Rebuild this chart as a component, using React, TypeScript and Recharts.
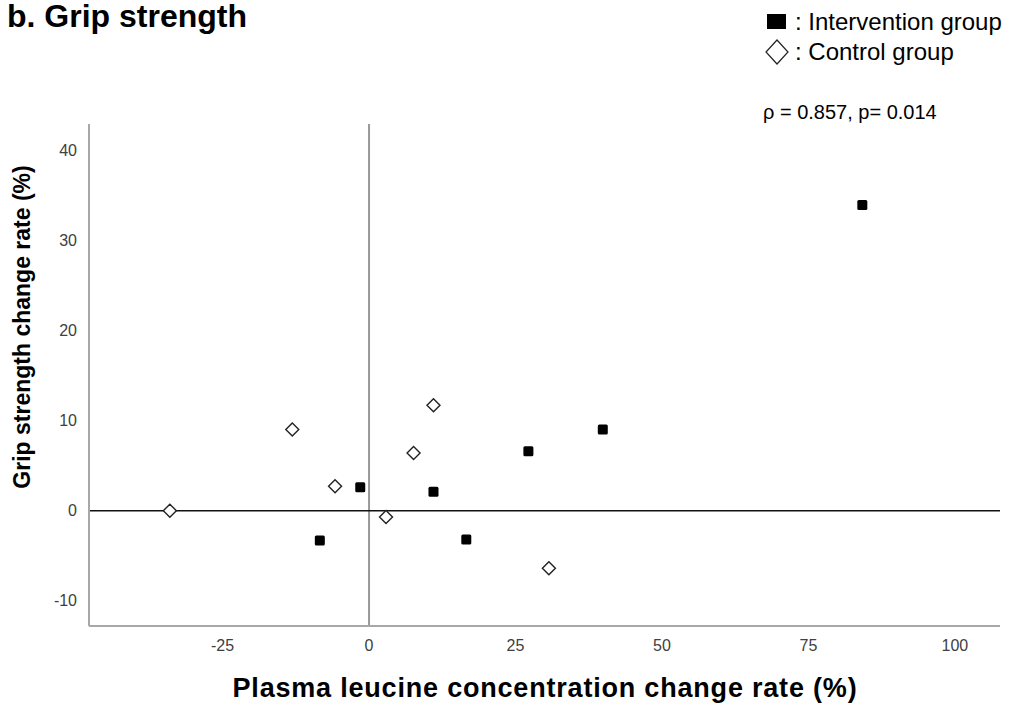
import React from 'react';
import { ScatterChart, Scatter, XAxis, YAxis, ReferenceLine } from 'recharts';

// values
const interventionX = [-1.5, -8.4, 11.0, 16.6, 27.2, 39.9, 84.2];
const interventionY = [2.6, -3.3, 2.1, -3.2, 6.6, 9.0, 33.9];
const controlX = [-34.0, -13.1, -5.8, 2.9, 7.6, 11.0, 30.7];
const controlY = [0.0, 9.0, 2.7, -0.7, 6.4, 11.7, -6.4];

const xTicks = [-25, 0, 25, 50, 75, 100];
const yTicks = [-10, 0, 10, 20, 30, 40];

const intervention = interventionX.map((x, i) => ({ x, y: interventionY[i] }));
const control = controlX.map((x, i) => ({ x, y: controlY[i] }));

const font = "'Liberation Sans', Arial, sans-serif";
const tickFont = "'Liberation Sans Narrow', 'Liberation Sans', Arial, sans-serif";

const SquareDot = (props: any) => {
  const { cx, cy } = props;
  if (cx == null || cy == null) return null;
  return <rect x={cx - 5} y={cy - 5} width={10} height={10} rx={1.5} fill="#000" />;
};

const DiamondDot = (props: any) => {
  const { cx, cy } = props;
  if (cx == null || cy == null) return null;
  const r = 6.5;
  return (
    <polygon
      points={`${cx},${cy - r} ${cx + r},${cy} ${cx},${cy + r} ${cx - r},${cy}`}
      fill="#fff"
      stroke="#222"
      strokeWidth={1.4}
    />
  );
};

const App: React.FC = () => {
  return (
    <div style={{ position: 'absolute', left: 0, top: 0, width: 1016, height: 704, background: '#fff', fontFamily: font }}>
      <div style={{ position: 'absolute', left: 7, top: -2, fontSize: 32, fontWeight: 700, color: '#000' }}>
        b. Grip strength
      </div>

      <div style={{ position: 'absolute', left: 765, top: 7, fontSize: 24, color: '#000', lineHeight: '30px' }}>
        <div style={{ display: 'flex', alignItems: 'center' }}>
          <svg width={28} height={30}>
            <rect x={2} y={7} width={19} height={15} fill="#000" />
          </svg>
          <span style={{ marginLeft: 2 }}>: Intervention group</span>
        </div>
        <div style={{ display: 'flex', alignItems: 'center' }}>
          <svg width={28} height={30}>
            <polygon points="12,3 23,15 12,27 1,15" fill="#fff" stroke="#222" strokeWidth={1.2} />
          </svg>
          <span style={{ marginLeft: 2 }}>: Control group</span>
        </div>
      </div>

      <div style={{ position: 'absolute', left: 763, top: 101, fontSize: 20, color: '#000' }}>
        ρ = 0.857, p= 0.014
      </div>

      <ScatterChart width={1016} height={704} margin={{ top: 124, right: 16, bottom: 48, left: 39 }}>
        <XAxis
          type="number"
          dataKey="x"
          domain={[-47.8, 107.7]}
          ticks={xTicks}
          allowDataOverflow
          axisLine={{ stroke: '#a8a8a8', strokeWidth: 2 }}
          tickLine={false}
          tick={{ fill: '#404040', fontSize: 16, fontFamily: tickFont }}
          tickMargin={8}
          height={30}
          label={{
            content: () => (
              <text
                x={545}
                y={697}
                textAnchor="middle"
                fontSize={27}
                fontWeight={700}
                letterSpacing={0.8}
                fontFamily={font}
                fill="#000"
              >
                Plasma leucine concentration change rate (%)
              </text>
            ),
          }}
        />
        <YAxis
          type="number"
          dataKey="y"
          domain={[-12.8, 42.9]}
          ticks={yTicks}
          allowDataOverflow
          axisLine={{ stroke: '#a8a8a8', strokeWidth: 2 }}
          tickLine={false}
          tick={{ fill: '#404040', fontSize: 16, fontFamily: tickFont }}
          tickMargin={6}
          width={50}
          label={{
            content: () => (
              <text
                x={30}
                y={327}
                transform="rotate(-90, 30, 327)"
                textAnchor="middle"
                fontSize={23}
                fontWeight={700}
                fontFamily={font}
                fill="#000"
              >
                Grip strength change rate (%)
              </text>
            ),
          }}
        />
        <ReferenceLine x={0} stroke="#999" strokeWidth={2} />
        <ReferenceLine y={0} stroke="#111" strokeWidth={1.5} />
        <Scatter name="Control group" data={control} shape={DiamondDot} isAnimationActive={false} />
        <Scatter name="Intervention group" data={intervention} shape={SquareDot} isAnimationActive={false} />
      </ScatterChart>
    </div>
  );
};

export default App;
